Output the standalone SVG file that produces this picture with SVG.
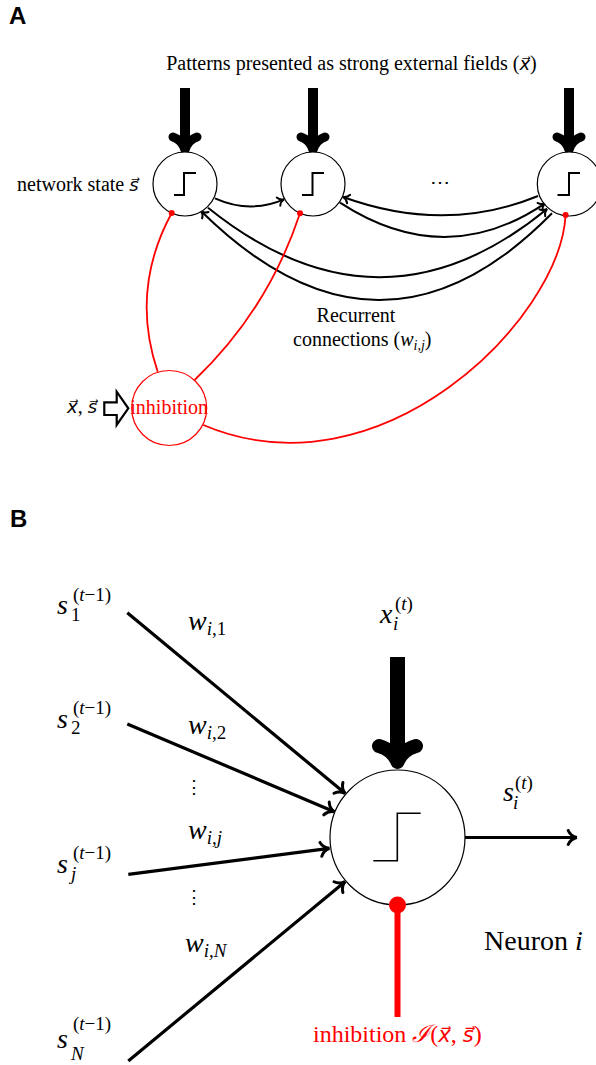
<svg xmlns="http://www.w3.org/2000/svg" width="596" height="1065" viewBox="0 0 596 1065">
<style>
.t{font-family:"Liberation Serif","DejaVu Serif",serif;font-size:20px;fill:#000}
.lbl{font-family:"Liberation Sans",Arial,sans-serif;font-weight:bold;font-size:24px;fill:#000}
.m{font-size:28px}
.i{font-style:italic}
.sc{font-size:19px}
.ss{font-size:14px}
.v{font-family:"DejaVu Sans",sans-serif;font-style:italic;font-size:18px}
.red{fill:#ff0000}
.nodeA{fill:#fff;stroke:#000;stroke-width:1.2}
.step{fill:none;stroke:#000;stroke-width:2}
.stepB{fill:none;stroke:#000;stroke-width:1.6}
.arc{fill:none;stroke:#000;stroke-width:2;marker-end:url(#arrA)}
.inh{fill:none;stroke:#ff0000;stroke-width:1.8}
.inp{fill:none;stroke:#000;stroke-width:3.2;marker-end:url(#arrB)}
.thick{fill:none;stroke:#000;stroke-linecap:round;stroke-linejoin:round}
</style>
<defs>
<marker id="arrA" markerUnits="userSpaceOnUse" viewBox="-10 -7 12 14" markerWidth="12" markerHeight="14" refX="0" refY="0" orient="auto">
<path d="M-6,-4.5 C-4.5,-1.5 -1.5,-0.3 0,0 C-1.5,0.3 -4.5,1.5 -6,4.5" fill="none" stroke="#000" stroke-width="2" stroke-linecap="round"/>
</marker>
<marker id="arrB" markerUnits="userSpaceOnUse" viewBox="-12 -9 14 18" markerWidth="14" markerHeight="18" refX="0" refY="0" orient="auto">
<path d="M-8.5,-7 C-6.5,-2.5 -2,-0.5 0,0 C-2,0.5 -6.5,2.5 -8.5,7" fill="none" stroke="#000" stroke-width="3" stroke-linecap="round"/>
</marker>
</defs>
<rect width="596" height="1065" fill="#fff"/>

<text class="lbl" x="9" y="24">A</text>
<text class="lbl" x="10" y="527">B</text>

<text class="t" x="351.5" y="70" text-anchor="middle">Patterns presented as strong external fields (<tspan class="v">x&#x20D7;</tspan>)</text>
<text class="t" x="17" y="191">network state <tspan class="v">s&#x20D7;</tspan></text>
<text class="t" x="440" y="189" text-anchor="middle">⋯</text>
<text class="t" x="356" y="322" text-anchor="middle">Recurrent</text>
<text class="t" x="293" y="346">connections (<tspan class="i">w</tspan><tspan class="ss i" dy="4">i,j</tspan><tspan dy="-4">)</tspan></text>
<text class="t" x="67" y="413"><tspan class="v">x&#x20D7;</tspan>, <tspan class="v">s&#x20D7;</tspan></text>

<g id="connectorsA">
<path class="arc" d="M215,198.3 Q250,214 284,199.3"/>
<path class="arc" d="M538,196 Q445,234 343,197"/>
<path class="arc" d="M340,202.7 Q445,271 545,203.3"/>
<path class="arc" d="M208,207.7 Q380,346 547,209"/>
<path class="arc" d="M552,213.3 Q380,388 201,211"/>
<path class="inh" d="M171.7,213 Q130,290 157.7,371.7"/>
<path class="inh" d="M300,213.3 Q268,310 194.6,380"/>
<path class="inh" d="M565.6,215 C560,320 380,500 203.3,425"/>
<g id="fieldA1"><line x1="185" y1="88" x2="185" y2="146" stroke="#000" stroke-width="10"/><path class="thick" stroke-width="9" d="M173,137 Q182,140 185,150 Q188,140 197,137"/></g>
<g id="fieldA2"><line x1="313" y1="88" x2="313" y2="146" stroke="#000" stroke-width="10"/><path class="thick" stroke-width="9" d="M301,137 Q310,140 313,150 Q316,140 325,137"/></g>
<g id="fieldA3"><line x1="569" y1="88" x2="569" y2="146" stroke="#000" stroke-width="10"/><path class="thick" stroke-width="9" d="M557,137 Q566,140 569,150 Q572,140 581,137"/></g>
<path d="M104.3,402.3 H116.7 V391.7 L128.3,408.3 L116.7,425 V415 H104.3 Z" fill="#fff" stroke="#000" stroke-width="2.2" stroke-linejoin="miter"/>
</g>

<g id="neuronA1">
<circle class="nodeA" cx="185" cy="184" r="32"/>
<path class="step" d="M174,195 H184 V173 H196"/>
<circle cx="171.7" cy="213" r="3" fill="#ff0000"/>
</g>
<g id="neuronA2">
<circle class="nodeA" cx="313" cy="184" r="32"/>
<path class="step" d="M302,195 H312.5 V173 H324"/>
<circle cx="300" cy="213.3" r="3" fill="#ff0000"/>
</g>
<g id="neuronA3">
<circle class="nodeA" cx="569.3" cy="184" r="32"/>
<path class="step" d="M557.5,195 H569 V173 H580"/>
<circle cx="565.6" cy="215" r="3" fill="#ff0000"/>
</g>
<g id="inhibitionA">
<circle cx="169.2" cy="408" r="37.5" fill="none" stroke="#ff0000" stroke-width="1.2"/>
<text class="t red" x="169.2" y="414" text-anchor="middle">inhibition</text>
</g>

<g id="connectorsB">
<path class="inp" d="M127.3,612.7 L345,793.3"/>
<path class="inp" d="M127.3,724 L334.3,811.7"/>
<path class="inp" d="M128.3,874.3 L329.3,848.3"/>
<path class="inp" d="M128.3,1061 L345,881.7"/>
<path class="inp" d="M465,837.5 H576.7"/>
<g id="fieldB"><line x1="397.5" y1="657" x2="397.5" y2="752" stroke="#000" stroke-width="15"/><path class="thick" stroke-width="14" d="M379,746 Q393,750 397.5,762 Q402,750 416,746"/></g>
<line x1="397.5" y1="905" x2="397.5" y2="1017" stroke="#ff0000" stroke-width="6"/>
</g>

<g id="neuronB">
<circle cx="397.5" cy="837.5" r="67.5" fill="#fff" stroke="#000" stroke-width="1.2"/>
<path class="stepB" d="M373.3,860.7 H397.3 V813.3 H420.7"/>
<circle cx="397.5" cy="905" r="8.5" fill="#ff0000"/>
</g>

<g id="labelsB">
<text class="t m" x="57" y="614"><tspan class="i">s</tspan><tspan class="sc" x="73" y="601">(<tspan class="i">t</tspan>−1)</tspan><tspan class="sc" x="71" y="621">1</tspan></text>
<text class="t m" x="57" y="728"><tspan class="i">s</tspan><tspan class="sc" x="73" y="714">(<tspan class="i">t</tspan>−1)</tspan><tspan class="sc" x="71" y="734">2</tspan></text>
<text class="t m" x="57" y="873"><tspan class="i">s</tspan><tspan class="sc" x="73" y="859">(<tspan class="i">t</tspan>−1)</tspan><tspan class="sc i" x="71" y="880">j</tspan></text>
<text class="t m" x="57" y="1048"><tspan class="i">s</tspan><tspan class="sc" x="73" y="1030">(<tspan class="i">t</tspan>−1)</tspan><tspan class="sc i" x="71" y="1060">N</tspan></text>
<text class="t m" x="188" y="630"><tspan class="i">w</tspan><tspan class="sc" dy="5"><tspan class="i">i</tspan>,1</tspan></text>
<text class="t m" x="188" y="734"><tspan class="i">w</tspan><tspan class="sc" dy="5"><tspan class="i">i</tspan>,2</tspan></text>
<text class="t m" x="188" y="839"><tspan class="i">w</tspan><tspan class="sc i" dy="5">i,j</tspan></text>
<text class="t m" x="185" y="952"><tspan class="i">w</tspan><tspan class="sc i" dy="5">i,N</tspan></text>
<text class="t" x="194" y="793" text-anchor="middle" style="font-size:18px">⋮</text>
<text class="t" x="194" y="903" text-anchor="middle" style="font-size:18px">⋮</text>
<text class="t m" x="380" y="623"><tspan class="i">x</tspan><tspan class="sc" x="395" y="610">(<tspan class="i">t</tspan>)</tspan><tspan class="sc i" x="393" y="630">i</tspan></text>
<text class="t m" x="503" y="801"><tspan class="i">s</tspan><tspan class="sc" x="515" y="789">(<tspan class="i">t</tspan>)</tspan><tspan class="sc i" x="513" y="809">i</tspan></text>
<text class="t m" x="484" y="950">Neuron <tspan class="i">i</tspan></text>
<text class="t red" x="313" y="1042" style="font-size:24px">inhibition <tspan class="i">ℐ</tspan>(<tspan class="v" style="font-size:21px">x&#x20D7;</tspan>, <tspan class="v" style="font-size:21px">s&#x20D7;</tspan>)</text>
</g>
</svg>
